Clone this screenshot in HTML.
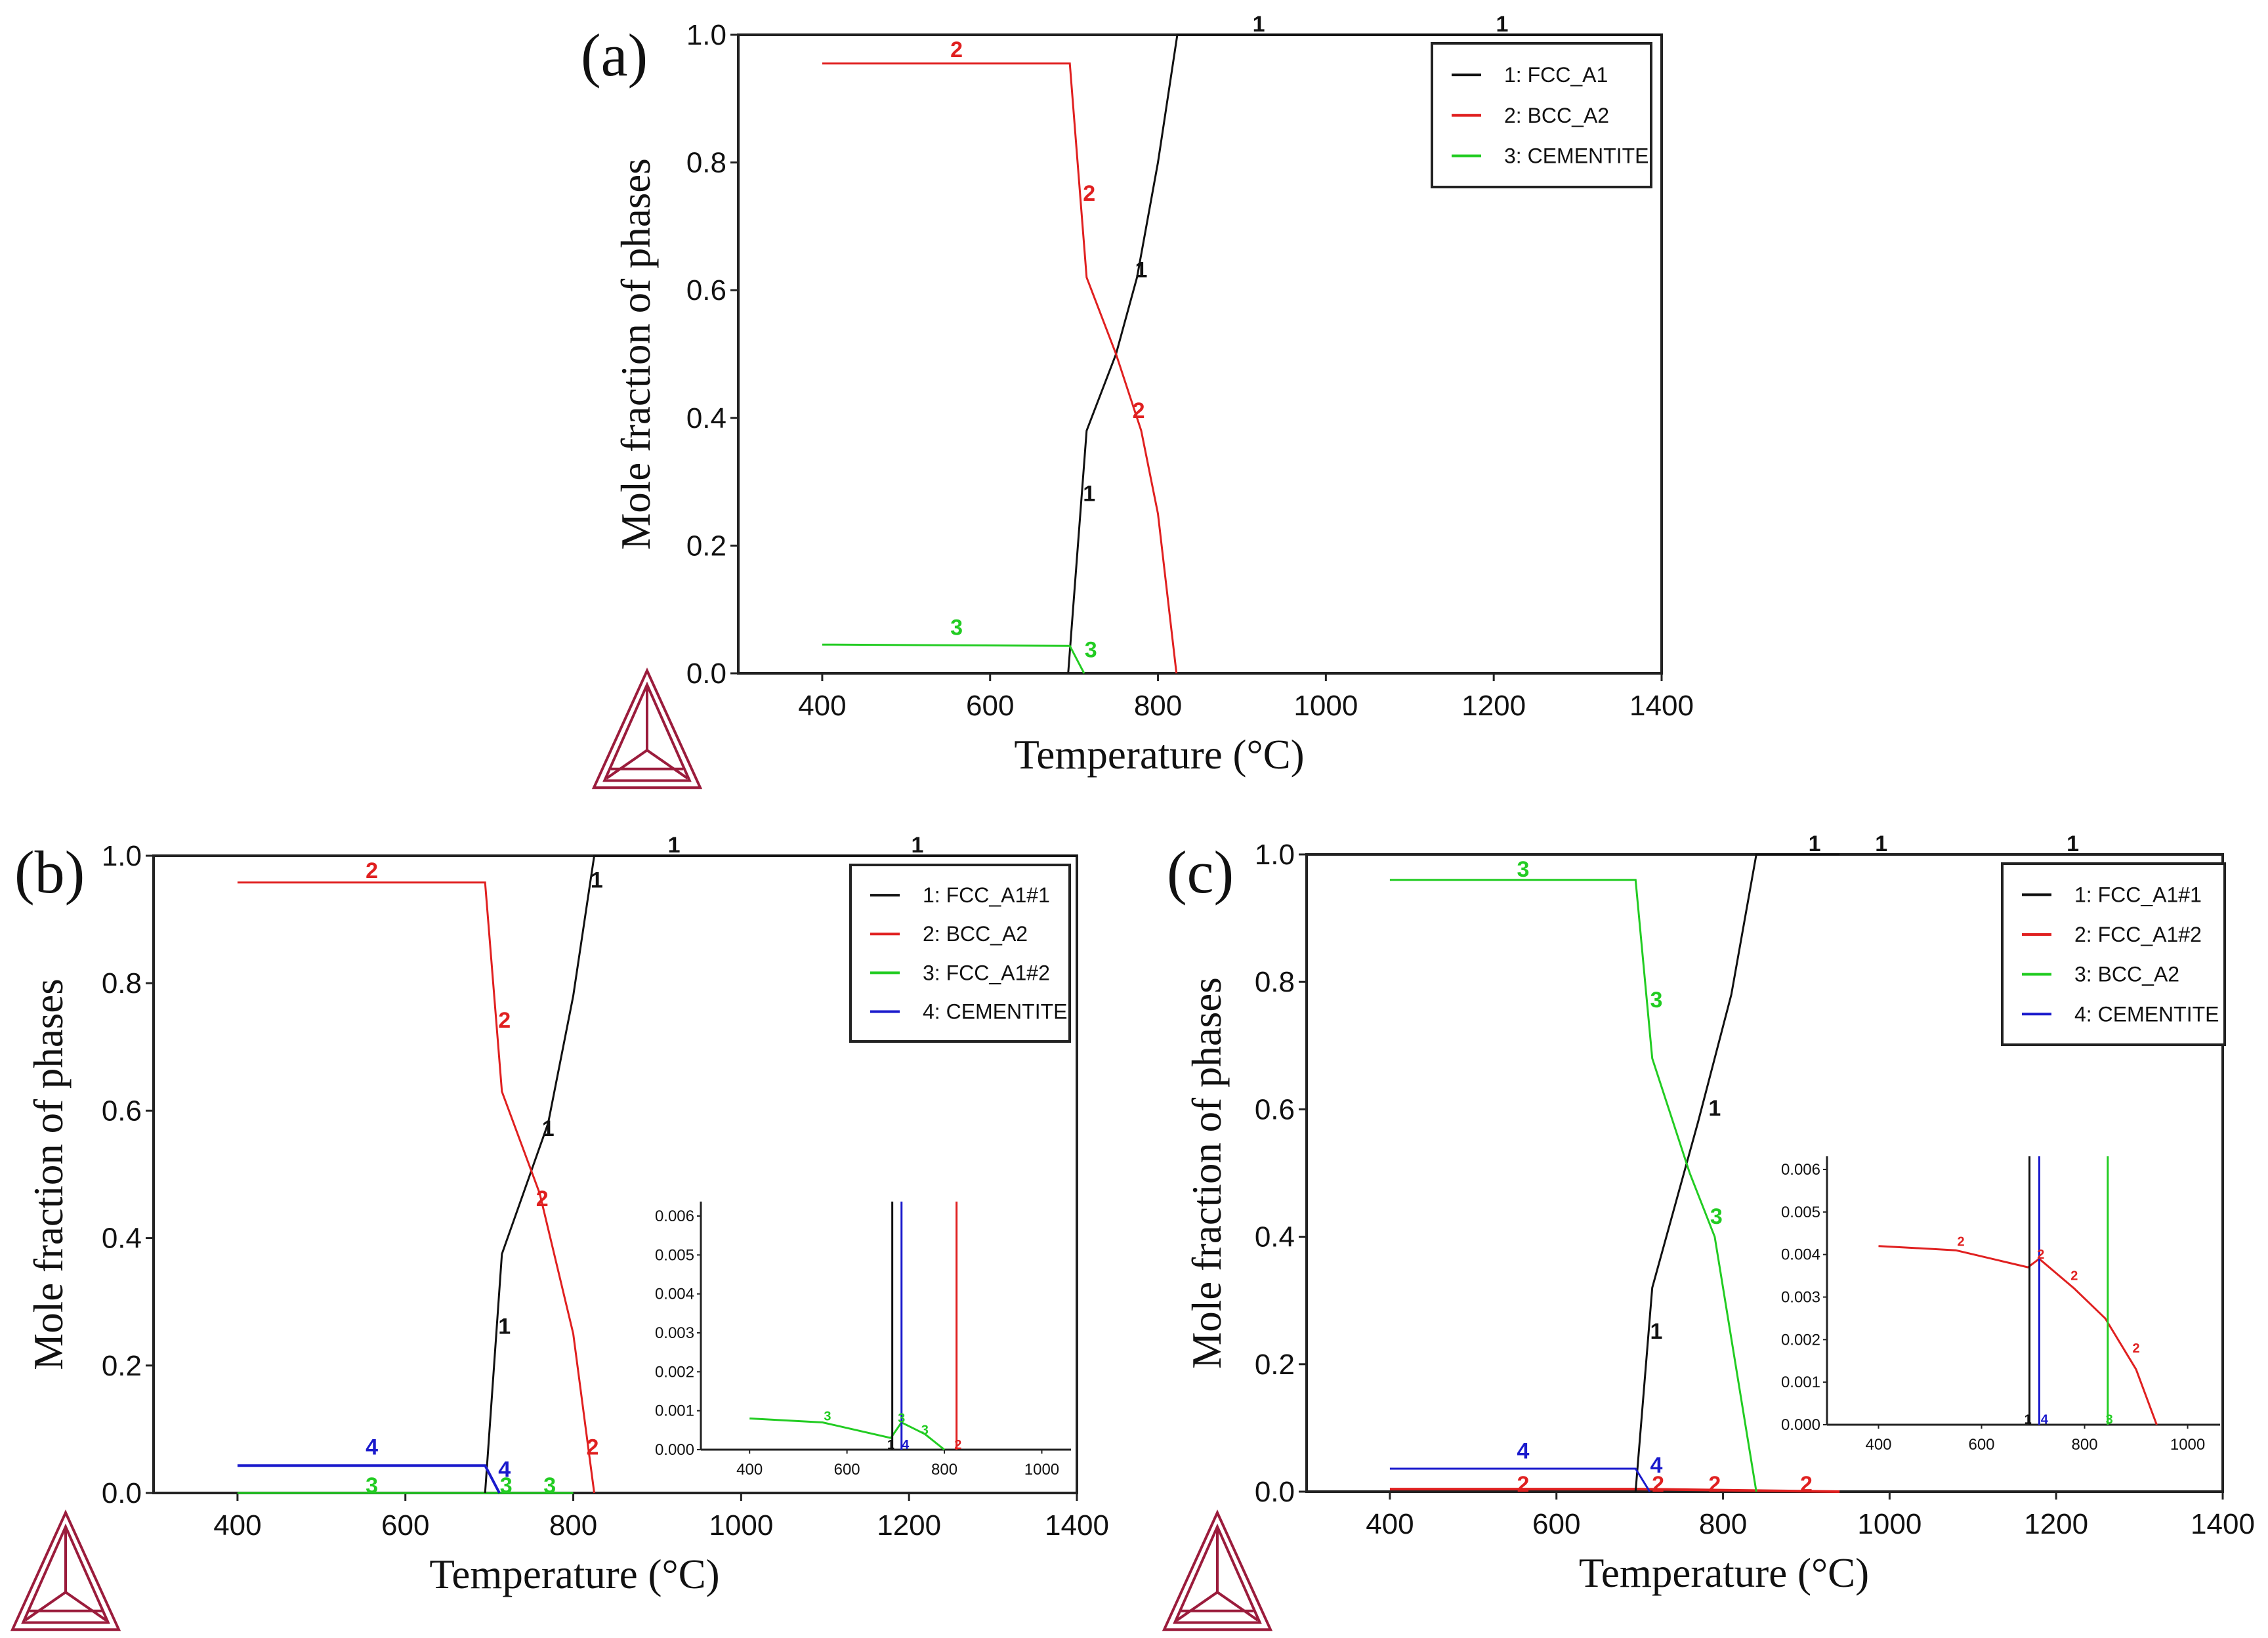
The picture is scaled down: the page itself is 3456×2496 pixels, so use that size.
<!DOCTYPE html>
<html><head><meta charset="utf-8"><style>
html,body{margin:0;padding:0;background:#fff}
svg{display:block}
text{font-family:"Liberation Sans",sans-serif}
.serif{font-family:"Liberation Serif",serif}
</style></head><body>
<svg id="s" width="3456" height="2496" viewBox="0 0 3456 2496" xmlns="http://www.w3.org/2000/svg"></svg>
<script>
// ---- data ----
const xTicks=[400,600,800,1000,1200,1400];
const yTicks=[0.0,0.2,0.4,0.6,0.8,1.0];
const yTickLabels=["0.0","0.2","0.4","0.6","0.8","1.0"];
const insetXTicks=[400,600,800,1000];
const insetYTicks=[0,0.001,0.002,0.003,0.004,0.005,0.006];
const insetYLabels=["0.000","0.001","0.002","0.003","0.004","0.005","0.006"];
// panel a
const aFccT=[693,715,750,775,800,823,1400];
const aFccV=[0,0.38,0.5,0.62,0.8,1.0,1.0];
const aBccT=[400,695,715,750,780,800,822];
const aBccV=[0.955,0.955,0.62,0.5,0.38,0.25,0];
const aCemT=[400,695,712];
const aCemV=[0.045,0.043,0];
// panel b
const bFccT=[695,715,770,800,825,1400];
const bFccV=[0,0.375,0.58,0.78,1.0,1.0];
const bBccT=[400,695,715,760,800,825];
const bBccV=[0.958,0.958,0.63,0.47,0.25,0];
const bCemT=[400,695,712];
const bCemV=[0.043,0.043,0];
const bFcc2T=[400,800];
const bFcc2V=[0,0];
const bInGreenT=[400,550,690,712,760,800];
const bInGreenV=[0.0008,0.0007,0.0003,0.0007,0.0004,0];
const bInVertT=[693,712,825];
// panel c
const cFccT=[695,715,770,810,840,940];
const cFccV=[0,0.32,0.58,0.78,1.0,1.0];
const cBccT=[400,695,715,760,790,840];
const cBccV=[0.96,0.96,0.68,0.5,0.4,0];
const cCemT=[400,695,712];
const cCemV=[0.036,0.036,0];
const cFcc2T=[400,700,940];
const cFcc2V=[0.004,0.004,0];
const cInRedT=[400,550,690,712,780,840,900,940];
const cInRedV=[0.0042,0.0041,0.0037,0.0039,0.0032,0.0025,0.0013,0];
const cInVertT=[693,712,845];

const NS="http://www.w3.org/2000/svg";
const svg=document.getElementById('s');
function el(tag,attrs,parent,txt){const e=document.createElementNS(NS,tag);for(const k in attrs)e.setAttribute(k,attrs[k]);if(txt!==undefined)e.textContent=txt;(parent||svg).appendChild(e);return e;}
function axes(x0,x1,xmin,xmax,yb,yt,ymin,ymax){return{x:v=>x0+(v-xmin)/(xmax-xmin)*(x1-x0),y:v=>yb-(v-ymin)/(ymax-ymin)*(yb-yt)};}
function series(g,ax,T,V,color,w,name){
  const d=T.map((t,i)=>(i?'L':'M')+ax.x(t).toFixed(1)+' '+ax.y(V[i]).toFixed(1)).join(' ');
  const p=el('path',{d:d,fill:'none',stroke:color,'stroke-width':w},g);
  
  
}
function lab(g,ax,t,v,s,color,size){
  const e=el('text',{x:ax.x(t),y:ax.y(v),fill:color,'font-size':size,'font-weight':'bold','text-anchor':'middle'},g,s);
  
  
}
function mainPanel(cfg){
  const g=el('g',{});
  
  
  const ax=axes(cfg.x0,cfg.x1,300,1400,cfg.yb,cfg.yt,0,1);
  el('rect',{x:cfg.x0,y:cfg.yt,width:cfg.x1-cfg.x0,height:cfg.yb-cfg.yt,fill:'none',stroke:'#222','stroke-width':4},g);
  xTicks.forEach(t=>{const x=ax.x(t);el('line',{x1:x,x2:x,y1:cfg.yb,y2:cfg.yb+12,stroke:'#222','stroke-width':3},g);
    const e=el('text',{x:x,y:cfg.yb+64,'font-size':44,'text-anchor':'middle',fill:'#111'},g,String(t));
    });
  yTicks.forEach((t,i)=>{const y=ax.y(t);el('line',{x1:cfg.x0-12,x2:cfg.x0,y1:y,y2:y,stroke:'#222','stroke-width':3},g);
    const e=el('text',{x:cfg.x0-18,y:y+15,'font-size':44,'text-anchor':'end',fill:'#111'},g,yTickLabels[i]);
    });
  const xt=el('text',{x:(cfg.x0+cfg.x1)/2-62,y:cfg.yb+145,'font-size':63,'text-anchor':'middle',class:'serif',fill:'#111'},g,'Temperature (°C)');
  
  const yx=cfg.ylx, yy=(cfg.yt+cfg.yb)/2;
  const yt=el('text',{x:yx,y:yy,'font-size':63,'text-anchor':'middle',class:'serif',fill:'#111',transform:`rotate(-90 ${yx} ${yy})`},g,'Mole fraction of phases');
  
  const pl=el('text',{x:cfg.lx,y:cfg.ly,'font-size':92,class:'serif',fill:'#111'},g,cfg.letter);
  
  // legend
  const lg=el('g',{},g);
  
  el('rect',{x:cfg.lgx,y:cfg.lgy,width:cfg.lgw,height:cfg.lgh,fill:'#fff',stroke:'#222','stroke-width':4},lg);
  cfg.legend.forEach((it,i)=>{const y=cfg.lgy+cfg.lgh*(i+0.78)/(cfg.legend.length+0.55)+0;
    el('line',{x1:cfg.lgx+30,x2:cfg.lgx+75,y1:y,y2:y,stroke:it[1],'stroke-width':4},lg);
    const e=el('text',{x:cfg.lgx+110,y:y+11,'font-size':32,fill:'#111'},lg,it[0]);
    });
  return {g,ax};
}
function inset(cfg){
  const g=el('g',{});
  
  
  const ax=axes(cfg.x0,cfg.x1,300,cfg.xmax,cfg.yb,cfg.y6,0,0.006);
  el('line',{x1:cfg.x0,x2:cfg.x0,y1:cfg.top,y2:cfg.yb,stroke:'#222','stroke-width':3},g);
  el('line',{x1:cfg.x0,x2:cfg.x1,y1:cfg.yb,y2:cfg.yb,stroke:'#222','stroke-width':3},g);
  insetXTicks.forEach(t=>{const x=ax.x(t);el('line',{x1:x,x2:x,y1:cfg.yb,y2:cfg.yb+6,stroke:'#222','stroke-width':2},g);
    const e=el('text',{x:x,y:cfg.yb+38,'font-size':24,'text-anchor':'middle',fill:'#111'},g,String(t));
    });
  insetYTicks.forEach((t,i)=>{const y=ax.y(t);el('line',{x1:cfg.x0-6,x2:cfg.x0,y1:y,y2:y,stroke:'#222','stroke-width':2},g);
    const e=el('text',{x:cfg.x0-10,y:y+8,'font-size':24,'text-anchor':'end',fill:'#111'},g,insetYLabels[i]);
    });
  return {g,ax};
}
function vline(g,ax,t,top,color,name){const x=ax.x(t);const l=el('line',{x1:x,x2:x,y1:top,y2:ax.y(0),stroke:color,'stroke-width':3},g);
  }
function logo(cx,top,w){
  const g=el('g',{fill:'none',stroke:'#9b1c3c','stroke-width':4});
  
  const h=w*1.1, b=top+h, l=cx-w/2, r=cx+w/2, c=[cx,top+h*0.68];
  el('polygon',{points:`${cx},${top} ${l},${b} ${r},${b}`},g);
  el('polygon',{points:`${cx},${top+h*0.12} ${l+w*0.1},${b-h*0.06} ${r-w*0.1},${b-h*0.06}`},g);
  el('line',{x1:cx,y1:top+h*0.12,x2:c[0],y2:c[1]},g);
  el('line',{x1:l+w*0.12,y1:b-h*0.08,x2:c[0],y2:c[1]},g);
  el('line',{x1:r-w*0.12,y1:b-h*0.08,x2:c[0],y2:c[1]},g);
  el('line',{x1:l+w*0.16,y1:b-h*0.16,x2:r-w*0.16,y2:b-h*0.16},g);
}
const K='#111',R='#e02020',G='#22cc22',B='#1a1acc';
// ---- panel a ----
let P=mainPanel({name:'panel-a',x0:1125,x1:2532,yb:1026,yt:53,ylx:990,lx:885,ly:115,letter:'(a)',
  lgx:2182,lgy:66,lgw:334,lgh:219,legend:[['1: FCC_A1',K],['2: BCC_A2',R],['3: CEMENTITE',G]]});
series(P.g,P.ax,aFccT,aFccV,K,3,'fcc-a1-line');
series(P.g,P.ax,aBccT,aBccV,R,3,'bcc-a2-line');
series(P.g,P.ax,aCemT,aCemV,G,3,'cementite-line');
[[560,0.965,'2',R],[718,0.74,'2',R],[777,0.4,'2',R],[780,0.62,'1',K],[718,0.27,'1',K],[920,1.005,'1',K],[1210,1.005,'1',K],[560,0.06,'3',G],[720,0.025,'3',G]].forEach(a=>lab(P.g,P.ax,a[0],a[1],a[2],a[3],34));
logo(986,1022,162);
// ---- panel b ----
P=mainPanel({name:'panel-b',x0:234,x1:1641,yb:2275,yt:1304,ylx:95,lx:22,ly:1360,letter:'(b)',
  lgx:1296,lgy:1318,lgw:334,lgh:269,legend:[['1: FCC_A1#1',K],['2: BCC_A2',R],['3: FCC_A1#2',G],['4: CEMENTITE',B]]});
series(P.g,P.ax,bFcc2T,bFcc2V,G,3,'fcc-a1-2-line');
series(P.g,P.ax,bFccT,bFccV,K,3,'fcc-a1-1-line');
series(P.g,P.ax,bBccT,bBccV,R,3,'bcc-a2-line');
series(P.g,P.ax,bCemT,bCemV,B,4,'cementite-line');
[[560,0.965,'2',R],[718,0.73,'2',R],[763,0.45,'2',R],[823,0.06,'2',R],[828,0.95,'1',K],[770,0.56,'1',K],[718,0.25,'1',K],[920,1.005,'1',K],[1210,1.005,'1',K],[560,0.06,'4',B],[718,0.025,'4',B],[560,0.0,'3',G],[720,0.0,'3',G],[772,0.0,'3',G]].forEach(a=>lab(P.g,P.ax,a[0],a[1],a[2],a[3],34));
let I=inset({name:'inset-b',x0:1068,x1:1632,xmax:1060,yb:2209,y6:1853,top:1831});
series(I.g,I.ax,bInGreenT,bInGreenV,G,3,'inset-fcc-a1-2-line');
vline(I.g,I.ax,bInVertT[0],1831,K,'inset-fcc-a1-1-vline');
vline(I.g,I.ax,bInVertT[1],1831,B,'inset-cementite-vline');
vline(I.g,I.ax,bInVertT[2],1831,R,'inset-bcc-a2-vline');
[[560,0.00075,'3',G],[760,0.0004,'3',G],[712,0.0007,'3',G],[828,0.00002,'2',R],[690,0.00002,'1',K],[720,0.00002,'4',B]].forEach(a=>lab(I.g,I.ax,a[0],a[1],a[2],a[3],20));
logo(100,2305,162);
// ---- panel c ----
P=mainPanel({name:'panel-c',x0:1991,x1:3387,yb:2273,yt:1302,ylx:1860,lx:1778,ly:1360,letter:'(c)',
  lgx:3051,lgy:1316,lgw:339,lgh:276,legend:[['1: FCC_A1#1',K],['2: FCC_A1#2',R],['3: BCC_A2',G],['4: CEMENTITE',B]]});
series(P.g,P.ax,cFcc2T,cFcc2V,R,4,'fcc-a1-2-line');
series(P.g,P.ax,cFccT,cFccV,K,3,'fcc-a1-1-line');
series(P.g,P.ax,cBccT,cBccV,G,3,'bcc-a2-line');
series(P.g,P.ax,cCemT,cCemV,B,3,'cementite-line');
[[560,0.965,'3',G],[720,0.76,'3',G],[792,0.42,'3',G],[790,0.59,'1',K],[720,0.24,'1',K],[910,1.005,'1',K],[990,1.005,'1',K],[1220,1.005,'1',K],[560,0.052,'4',B],[720,0.03,'4',B],[560,0.0,'2',R],[722,0.0,'2',R],[790,0.0,'2',R],[900,0.0,'2',R]].forEach(a=>lab(P.g,P.ax,a[0],a[1],a[2],a[3],34));
I=inset({name:'inset-c',x0:2784,x1:3383,xmax:1063,yb:2171,y6:1782,top:1762});
series(I.g,I.ax,cInRedT,cInRedV,R,3,'inset-fcc-a1-2-line');
vline(I.g,I.ax,cInVertT[0],1762,K,'inset-fcc-a1-1-vline');
vline(I.g,I.ax,cInVertT[1],1762,B,'inset-cementite-vline');
vline(I.g,I.ax,cInVertT[2],1762,G,'inset-bcc-a2-vline');
[[560,0.0042,'2',R],[715,0.0039,'2',R],[780,0.0034,'2',R],[900,0.0017,'2',R],[690,0.00002,'1',K],[722,0.00002,'4',B],[848,0.00002,'3',G]].forEach(a=>lab(I.g,I.ax,a[0],a[1],a[2],a[3],20));
logo(1855,2305,162);
</script>
</body></html>
